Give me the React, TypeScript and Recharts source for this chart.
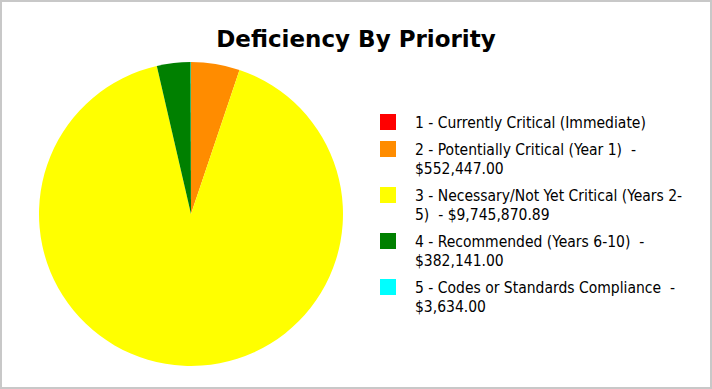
import { PieChart, Pie, Cell, Legend } from 'recharts'

// priority buckets, drawn clockwise from 12 o'clock
const priorities = [
  '1 - Currently Critical (Immediate)',
  '2 - Potentially Critical (Year 1)  -\n$552,447.00',
  '3 - Necessary/Not Yet Critical (Years 2-\n5)  - $9,745,870.89',
  '4 - Recommended (Years 6-10)  -\n$382,141.00',
  '5 - Codes or Standards Compliance  -\n$3,634.00',
]
const costs = [0, 552447.0, 9745870.89, 382141.0, 3634.0]
const colors = ['#ff0000', '#ff8c00', '#ffff00', '#008000', '#00ffff']

const data = priorities.map((name, i) => ({ name, value: costs[i] }))

const FONT = '"DejaVu Sans Condensed", "DejaVu Sans", sans-serif'

function PriorityLegend() {
  return (
    <div style={{ display: 'flex', flexDirection: 'column', gap: 8 }}>
      {data.map((d, i) => (
        <div key={i} style={{ display: 'flex', alignItems: 'flex-start' }}>
          <span style={{
            width: 16,
            height: 16,
            background: colors[i],
            flexShrink: 0,
          }} />
          <span style={{
            marginLeft: 19,
            fontSize: 15.5,
            lineHeight: '19px',
            color: '#000',
            whiteSpace: 'pre',
          }}>
            {d.name}
          </span>
        </div>
      ))}
    </div>
  )
}

export default function App() {
  return (
    <div style={{
      position: 'absolute',
      left: 0,
      top: 0,
      width: 712,
      height: 389,
      boxSizing: 'border-box',
      border: '2px solid #c8c8c8',
      background: '#fff',
      fontFamily: FONT,
    }}>
      <div style={{
        position: 'absolute',
        left: 0,
        right: 0,
        top: 24,
        textAlign: 'center',
        fontFamily: '"DejaVu Sans", sans-serif',
        fontSize: 23,
        fontWeight: 700,
        color: '#000',
      }}>
        Deficiency By Priority
      </div>
      <div style={{ position: 'absolute', left: -2, top: -2 }}>
        <PieChart
          width={712}
          height={389}
          margin={{ top: 0, right: 0, bottom: 0, left: 0 }}
        >
          <Pie
            data={data}
            dataKey="value"
            nameKey="name"
            cx={191}
            cy={214}
            outerRadius={152}
            startAngle={90}
            endAngle={-270}
            stroke="none"
            isAnimationActive={false}
          >
            {data.map((_, i) => (
              <Cell key={i} fill={colors[i]} />
            ))}
          </Pie>
          <Legend
            content={<PriorityLegend />}
            wrapperStyle={{ left: 380, top: 114, width: 320 }}
          />
        </PieChart>
      </div>
    </div>
  )
}
